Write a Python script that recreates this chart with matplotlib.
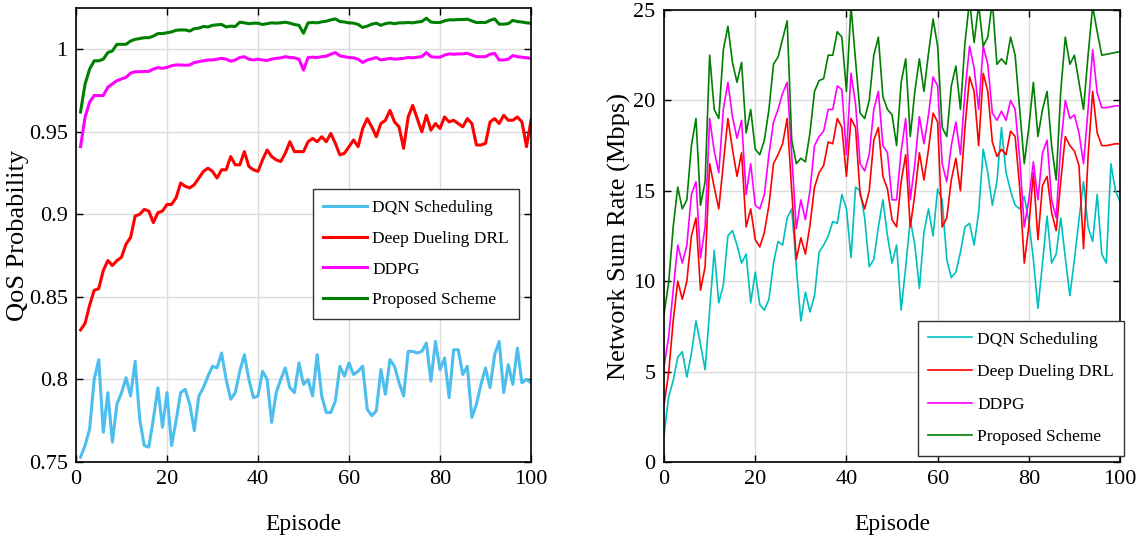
import matplotlib
matplotlib.use('Agg')
import matplotlib.pyplot as plt
import numpy as np

plt.rcParams['font.family'] = ['Liberation Serif', 'DejaVu Serif']

# ---- QoS probability (left), episodes 1..100 ----
ep_qos = np.arange(1, 101)
qos_dqn = [0.753, 0.760, 0.770, 0.800, 0.812, 0.768, 0.792, 0.762, 0.785, 0.792,
           0.801, 0.790, 0.811, 0.776, 0.760, 0.759, 0.776, 0.795, 0.771, 0.792,
           0.760, 0.775, 0.792, 0.794, 0.785, 0.769, 0.790, 0.795, 0.802, 0.808,
           0.807, 0.816, 0.800, 0.788, 0.792, 0.805, 0.815, 0.800, 0.789, 0.790,
           0.805, 0.800, 0.774, 0.792, 0.800, 0.807, 0.795, 0.792, 0.810, 0.797,
           0.800, 0.790, 0.815, 0.790, 0.780, 0.780, 0.787, 0.808, 0.802, 0.810,
           0.803, 0.805, 0.808, 0.782, 0.778, 0.781, 0.806, 0.791, 0.812, 0.808,
           0.798, 0.790, 0.817, 0.817, 0.816, 0.817, 0.822, 0.799, 0.823, 0.806,
           0.813, 0.789, 0.818, 0.818, 0.803, 0.808, 0.777, 0.785, 0.797, 0.807,
           0.795, 0.815, 0.823, 0.792, 0.809, 0.797, 0.819, 0.798, 0.800, 0.798]
qos_dueling = [0.830, 0.834, 0.845, 0.854, 0.855, 0.866, 0.872, 0.869, 0.872, 0.874,
               0.882, 0.886, 0.899, 0.900, 0.903, 0.902, 0.895, 0.901, 0.902, 0.906,
               0.906, 0.910, 0.919, 0.917, 0.916, 0.918, 0.922, 0.926, 0.928, 0.926,
               0.922, 0.927, 0.927, 0.935, 0.930, 0.930, 0.938, 0.929, 0.927, 0.926,
               0.933, 0.939, 0.935, 0.933, 0.932, 0.937, 0.944, 0.938, 0.938, 0.938,
               0.944, 0.946, 0.944, 0.947, 0.944, 0.949, 0.943, 0.936, 0.937, 0.941,
               0.945, 0.941, 0.952, 0.958, 0.953, 0.947, 0.955, 0.957, 0.963, 0.956,
               0.953, 0.940, 0.959, 0.966, 0.958, 0.950, 0.960, 0.951, 0.955, 0.952,
               0.959, 0.956, 0.957, 0.955, 0.953, 0.958, 0.955, 0.942, 0.942, 0.943,
               0.956, 0.958, 0.955, 0.960, 0.957, 0.957, 0.959, 0.956, 0.941, 0.957]
qos_ddpg = [0.941, 0.959, 0.968, 0.972, 0.972, 0.972, 0.977, 0.979, 0.981, 0.982,
            0.983, 0.9855, 0.9864, 0.9864, 0.9866, 0.9866, 0.988, 0.9889, 0.9885, 0.989,
            0.990, 0.9905, 0.9905, 0.9903, 0.9905, 0.992, 0.9925, 0.993, 0.9935, 0.9935,
            0.994, 0.9945, 0.994, 0.9928, 0.9935, 0.995, 0.9955, 0.994, 0.9935, 0.994,
            0.9935, 0.9932, 0.994, 0.9945, 0.9948, 0.9955, 0.995, 0.9948, 0.994, 0.9874,
            0.995, 0.9952, 0.995, 0.9955, 0.9958, 0.997, 0.998, 0.996, 0.9955, 0.995,
            0.9948, 0.994, 0.992, 0.9935, 0.9942, 0.995, 0.9935, 0.994, 0.9945, 0.994,
            0.9942, 0.9945, 0.995, 0.9948, 0.9952, 0.9955, 0.998, 0.9955, 0.9952, 0.9952,
            0.9965, 0.9972, 0.997, 0.9972, 0.9972, 0.9976, 0.9965, 0.9955, 0.9955, 0.9955,
            0.997, 0.9975, 0.9935, 0.9935, 0.994, 0.9962, 0.9955, 0.9952, 0.9948, 0.9945]
qos_proposed = [0.962, 0.979, 0.988, 0.993, 0.993, 0.994, 0.998, 0.999, 1.003, 1.003,
                1.003, 1.005, 1.006, 1.0065, 1.007, 1.007, 1.008, 1.0095, 1.0095, 1.010,
                1.0105, 1.0115, 1.0117, 1.0117, 1.011, 1.0125, 1.0128, 1.0138, 1.0135, 1.0145,
                1.0148, 1.015, 1.0135, 1.014, 1.0138, 1.0164, 1.016, 1.0155, 1.0158, 1.0158,
                1.015, 1.0155, 1.016, 1.0158, 1.016, 1.0164, 1.0158, 1.015, 1.0145, 1.0097,
                1.016, 1.0162, 1.016, 1.0166, 1.017, 1.0178, 1.0184, 1.0168, 1.0165, 1.016,
                1.0158, 1.015, 1.0132, 1.014, 1.0152, 1.0158, 1.0145, 1.0155, 1.016, 1.0155,
                1.016, 1.016, 1.0162, 1.016, 1.0165, 1.0168, 1.0188, 1.0165, 1.0162, 1.0162,
                1.0172, 1.0178, 1.0178, 1.018, 1.018, 1.0182, 1.0172, 1.0162, 1.0162, 1.0162,
                1.0175, 1.0184, 1.0152, 1.0152, 1.0155, 1.0175, 1.0168, 1.0165, 1.016, 1.0158]

# ---- Network sum rate (right), episodes 0..100 ----
ep_rate = np.arange(0, 101)
rate_dqn = [1.5, 3.6, 4.5, 5.8, 6.1, 4.7, 6.0, 7.8, 6.5, 5.1,
            8.4, 11.7, 8.8, 9.8, 12.5, 12.8, 12.0, 11.0, 11.5, 8.8,
            10.5, 8.7, 8.4, 9.0, 11.0, 12.2, 12.0, 13.5, 14.0, 10.8,
            7.8, 9.4, 8.3, 9.2, 11.6, 12.0, 12.5, 13.3, 13.2, 14.8,
            14.0, 11.3, 15.2, 15.0, 13.5, 10.8, 11.2, 13.0, 14.5, 12.5,
            11.0, 12.0, 8.4, 10.8, 13.4, 12.0, 9.6, 12.7, 14.0, 12.5,
            15.1, 14.5, 11.2, 10.2, 10.5, 11.6, 13.0, 13.2, 12.0, 13.8,
            17.3, 16.0, 14.2, 15.5, 18.5, 16.0, 15.0, 14.2, 14.0, 14.7,
            13.3, 11.2, 8.5, 11.0, 13.6, 11.0, 11.5, 13.5, 11.3, 9.2,
            11.2, 13.4, 15.5, 13.0, 12.2, 14.8, 11.5, 11.0, 16.5, 15.0, 14.4]
rate_dueling = [3.2, 4.9, 7.8, 10.0, 9.0, 10.0, 12.5, 13.5, 9.5, 10.8,
                16.5, 15.2, 14.0, 16.5, 19.0, 17.3, 15.8, 17.1, 13.0, 14.0,
                12.3, 11.9, 12.7, 14.2, 16.5, 17.0, 17.6, 19.0, 15.0, 11.2,
                12.4, 11.5, 13.1, 15.2, 16.0, 16.4, 17.7, 17.6, 19.0, 18.5,
                15.8, 19.0, 18.5, 14.8, 14.0, 15.0, 17.8, 18.5, 15.8, 15.1,
                13.4, 13.0, 15.5, 17.0, 13.0, 14.8, 17.1, 15.6, 17.3, 19.3,
                18.8, 13.0, 13.5, 15.6, 16.8, 15.0, 18.5, 21.3, 20.5, 17.5,
                21.5, 20.5, 17.7, 16.9, 17.3, 17.0, 18.3, 18.0, 15.2, 11.0,
                13.0, 16.0, 12.3, 15.3, 15.8, 13.8, 12.8, 15.5, 18.0, 17.5,
                17.2, 16.4, 11.8, 16.9, 20.5, 18.2, 17.5, 17.5, 17.55, 17.6, 17.6]
rate_ddpg = [5.3, 6.9, 9.5, 12.0, 11.0, 12.0, 14.8, 15.5, 11.3, 13.0,
             19.0, 17.2, 16.0, 19.5, 21.0, 19.1, 17.9, 18.9, 14.8, 16.5,
             14.2, 14.0, 14.8, 17.0, 18.8, 19.5, 20.4, 21.0, 17.0, 12.9,
             14.5, 13.4, 15.0, 17.5, 18.0, 18.3, 19.5, 19.5, 20.8, 20.6,
             17.0, 21.5, 19.8, 16.5, 16.1, 17.0, 19.5, 20.5, 17.5, 17.1,
             14.5, 14.5, 17.2, 19.0, 14.5, 16.5, 19.1, 17.6, 19.2, 21.3,
             20.8, 16.5, 15.5, 17.5, 18.8, 17.0, 20.5, 23.0, 21.8, 19.5,
             23.0, 22.0, 19.3, 18.9, 19.4, 18.9, 20.0, 19.5, 16.8, 13.0,
             14.5, 16.6, 14.5, 17.1, 17.8, 14.5, 13.5, 17.5, 20.0, 19.0,
             19.2, 18.2, 16.5, 19.5, 22.8, 20.4, 19.6, 19.6, 19.65, 19.7, 19.7]
rate_proposed = [8.2, 9.9, 13.0, 15.2, 14.0, 14.5, 17.5, 19.0, 14.2, 15.5,
                 22.5, 19.5, 19.0, 22.8, 24.1, 22.1, 21.0, 22.1, 18.2, 19.5,
                 17.3, 17.0, 17.8, 19.5, 22.0, 22.4, 23.4, 24.4, 17.8, 16.5,
                 16.8, 16.6, 18.2, 20.5, 21.1, 21.2, 22.5, 22.5, 23.8, 23.5,
                 20.5, 25.2, 22.2, 19.3, 19.0, 20.0, 22.5, 23.5, 20.2, 19.5,
                 19.2, 17.5, 21.0, 22.3, 18.0, 20.5, 22.3, 20.5, 22.6, 24.5,
                 23.0, 18.5, 18.0, 20.8, 21.9, 19.5, 23.2, 25.5, 23.2, 25.3,
                 23.0, 23.5, 25.5, 22.0, 22.3, 22.0, 23.5, 22.5, 19.5, 16.5,
                 18.5, 21.0, 18.0, 19.5, 20.5, 17.5, 15.6, 20.5, 23.5, 22.0,
                 22.5, 21.0, 19.5, 22.5, 25.2, 23.8, 22.5, 22.55, 22.6, 22.65, 22.7]

labels = ['DQN Scheduling', 'Deep Dueling DRL', 'DDPG', 'Proposed Scheme']

fig = plt.figure(figsize=(11.41, 5.47), dpi=100)
ax1 = fig.add_axes([0.0666, 0.1554, 0.3988, 0.8300])
ax2 = fig.add_axes([0.5820, 0.1554, 0.3996, 0.8263])

def style(ax):
    ax.grid(True, color='#dcdcdc', lw=1.0)
    ax.set_axisbelow(True)
    ax.tick_params(direction='in', top=True, right=True, length=5, width=1,
                   labelsize=16, pad=6)
    for s in ax.spines.values():
        s.set_linewidth(1.2)
    ax.set_xlim(0, 100)
    ax.set_xticks(np.arange(0, 101, 20))
    ax.set_xlabel('Episode', fontsize=17, labelpad=18)

# left panel
ax1.plot(ep_qos, qos_dqn, color='#4DBEEE', lw=2.2, label=labels[0])
ax1.plot(ep_qos, qos_dueling, color='#FF0000', lw=2.2, label=labels[1])
ax1.plot(ep_qos, qos_ddpg, color='#FF00FF', lw=2.2, label=labels[2])
ax1.plot(ep_qos, qos_proposed, color='#007F00', lw=2.2, label=labels[3])
style(ax1)
ax1.set_ylim(0.75, 1.025)
ax1.set_yticks([0.75, 0.8, 0.85, 0.9, 0.95, 1.0])
ax1.set_yticklabels(['0.75', '0.8', '0.85', '0.9', '0.95', '1'])
ax1.set_ylabel('QoS Probability', fontsize=19, labelpad=0)
ax1.legend(loc='upper left', bbox_to_anchor=(0.521, 0.601), borderaxespad=0,
           fontsize=12.5, frameon=True, fancybox=False, framealpha=1,
           edgecolor='#333333', handlelength=2.5, handletextpad=0.3,
           labelspacing=0.85, borderpad=0.6)

# right panel
ax2.plot(ep_rate, rate_dqn, color='#00BFBF', lw=1.2, label=labels[0])
ax2.plot(ep_rate, rate_dueling, color='#FF0000', lw=1.2, label=labels[1])
ax2.plot(ep_rate, rate_ddpg, color='#FF00FF', lw=1.2, label=labels[2])
ax2.plot(ep_rate, rate_proposed, color='#007F00', lw=1.2, label=labels[3])
style(ax2)
ax2.set_ylim(0, 25)
ax2.set_yticks(np.arange(0, 26, 5))
ax2.set_ylabel('Network Sum Rate (Mbps)', fontsize=19, labelpad=2)
ax2.legend(loc='upper left', bbox_to_anchor=(0.557, 0.312), borderaxespad=0,
           fontsize=12.5, frameon=True, fancybox=False, framealpha=1,
           edgecolor='#333333', handlelength=2.5, handletextpad=0.3,
           labelspacing=0.95, borderpad=0.6)

plt.savefig('out.png', dpi=100)
print('Saved: out.png')
plt.close()
